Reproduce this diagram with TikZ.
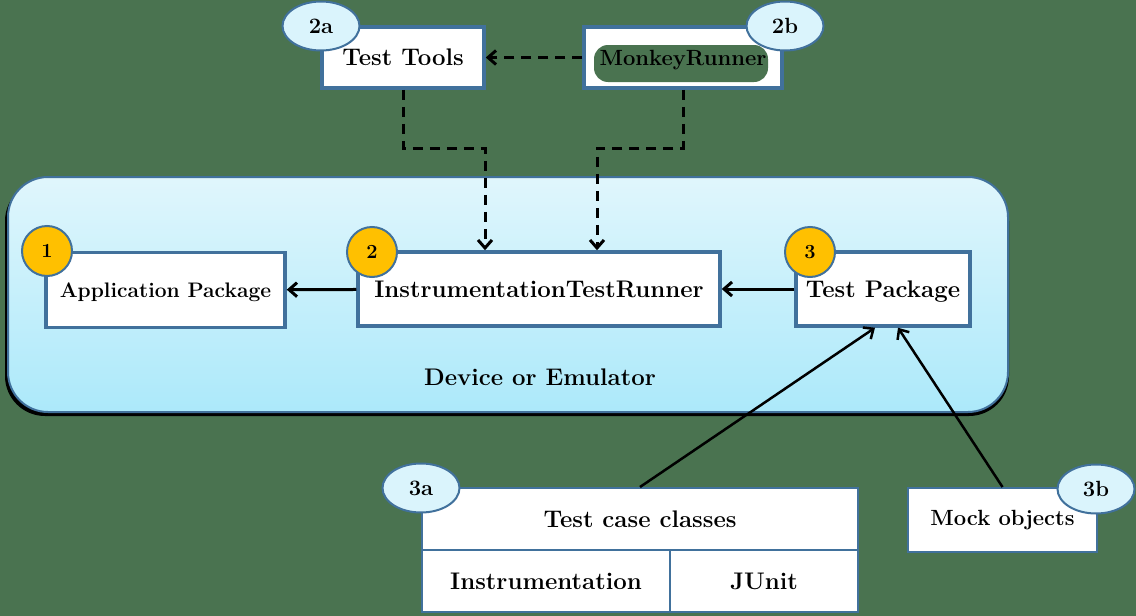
\documentclass[tikz,border=0pt]{standalone}
\usepackage{fontspec}
\usepackage{tikz}
\usetikzlibrary{arrows.meta,shapes,positioning}
\definecolor{bggreen}{RGB}{74,115,80}
\definecolor{edgeblue}{RGB}{65,113,156}
\definecolor{numorange}{RGB}{255,192,0}
\definecolor{tagcyan}{RGB}{218,244,252}
\definecolor{devtop}{RGB}{224,246,252}
\definecolor{devbot}{RGB}{172,233,250}
\tikzset{>={Straight Barb[length=8pt,width=14pt]}}
\tikzset{box node/.style={rectangle,fill=white,draw=edgeblue,line width=3.5pt,inner sep=0pt,
              text depth=0pt,font=\fontsize{24}{28}\selectfont\bfseries},
         cell node/.style={rectangle,fill=white,draw=edgeblue,line width=2pt,inner sep=0pt,
              font=\fontsize{24}{28}\selectfont\bfseries},
         num node/.style={circle,fill=numorange,draw=edgeblue,line width=2pt,minimum size=50pt,
              inner sep=0pt,font=\fontsize{20}{24}\selectfont\bfseries},
         tag node/.style={ellipse,fill=tagcyan,draw=edgeblue,line width=2pt,
              minimum width=77pt,minimum height=49pt,inner sep=0pt,font=\fontsize{22}{26}\selectfont\bfseries},
         flow/.style={draw,line width=3pt,dash pattern=on 10pt off 7pt,->},
            }
\begin{document}
\begin{tikzpicture}[x=1pt,y=-1pt]
    \useasboundingbox (0,0) rectangle (1136,616);
    \fill[bggreen] (0,0) rectangle (1136,616);

    % device frame
    \fill[black,rounded corners=40pt] (5,181) rectangle (1009,416);
    \shade[top color=devtop,bottom color=devbot,draw=edgeblue,line width=2pt,rounded corners=40pt]
        (8,177) rectangle (1008,412);
    \node[font=\fontsize{24}{28}\selectfont\bfseries] (dev) at (540,377) {Device or Emulator};

    \node[box node,minimum width=239pt,minimum height=75pt,font=\fontsize{21}{24}\selectfont\bfseries] (app) at (165.5,290) {Application Package};
    \node[box node,minimum width=362pt,minimum height=74pt] (runner) at (539,289) {InstrumentationTestRunner};
    \node[box node,minimum width=174pt,minimum height=74pt] (pkg) at (883,289) {Test Package};

    \node[num node] (1) at (47,251) {1};
    \node[num node] (2) at (372,252) {2};
    \node[num node] (3) at (810,252) {3};

    % tools on top
    \node[box node,minimum width=162pt,minimum height=61pt] (tools) at (403,57.5) {Test Tools};
    \node[box node,minimum width=198pt,minimum height=61pt] (monkey) at (683,57.5) {};
    \fill[bggreen,rounded corners=14pt] (594,45) rectangle (768,82);
    \node[font=\fontsize{22}{26}\selectfont\bfseries,text depth=0pt] at (monkey) {MonkeyRunner};

    \node[tag node] (2a) at (321,26) {2a};
    \node[tag node] (2b) at (785,26) {2b};

    \coordinate (bendA) at (485,148);
    \coordinate (bendB) at (597,148);
    \path[flow] (monkey) -- (tools);
    \path[flow] (tools.south) |- (bendA) -- (bendA |- runner.north);
    \path[flow] (monkey.south) |- (bendB) -- (bendB |- runner.north);

    \path[line width=3pt]
    (runner) edge[->] node {} (app)
    (pkg) edge[->] node {} (runner);

    % test case classes and mocks
    \node[cell node,minimum width=436pt,minimum height=62pt] (classes) at (640,519) {Test case classes};
    \node[cell node,minimum width=248pt,minimum height=62pt] (instr) at (546,581) {Instrumentation};
    \node[cell node,minimum width=188pt,minimum height=62pt] (junit) at (764,581) {JUnit};
    \node[cell node,minimum width=189pt,minimum height=64pt,font=\fontsize{22}{26}\selectfont\bfseries] (mock) at (1002.5,520) {Mock objects};

    \node[tag node] (3a) at (421,488) {3a};
    \node[tag node] (3b) at (1096,489) {3b};

    \path[line width=2.5pt]
    (classes.north) edge[->] node {} ([xshift=-8pt]pkg.south)
    (mock.north) edge[->] node {} ([xshift=15pt]pkg.south);

\end{tikzpicture}
\end{document}
